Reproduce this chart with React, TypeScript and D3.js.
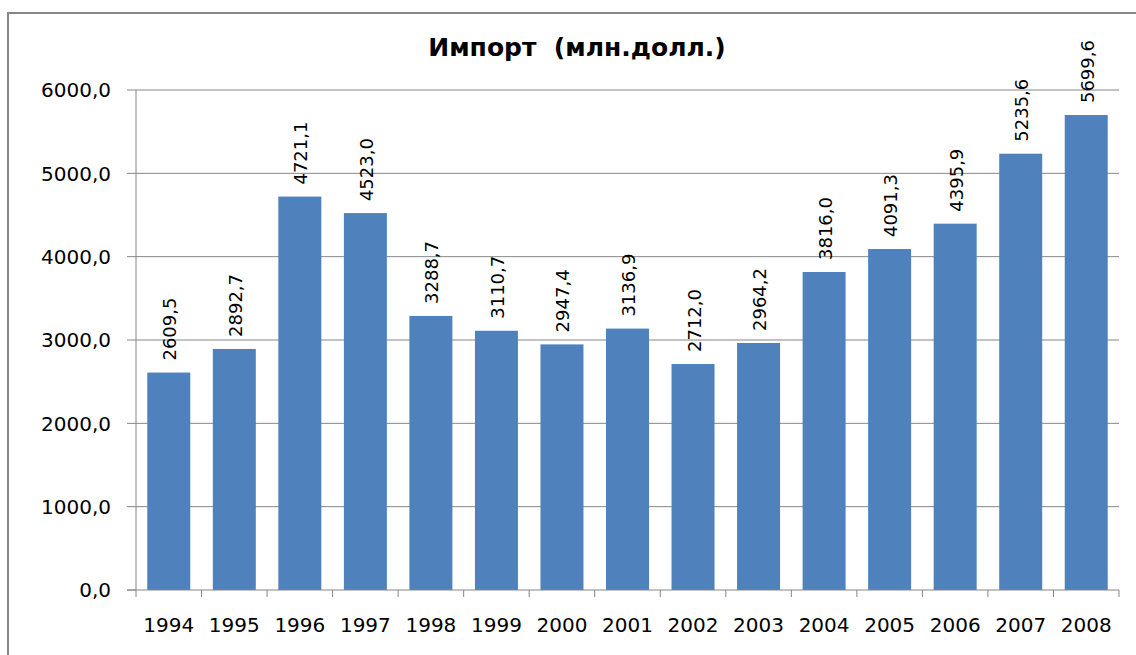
import React, { useEffect, useRef } from 'react'
import * as d3 from 'd3'

const years = ['1994', '1995', '1996', '1997', '1998', '1999', '2000', '2001', '2002', '2003', '2004', '2005', '2006', '2007', '2008']
const imports = [2609.5, 2892.7, 4721.1, 4523.0, 3288.7, 3110.7, 2947.4, 3136.9, 2712.0, 2964.2, 3816.0, 4091.3, 4395.9, 5235.6, 5699.6]
const yTicks = [0, 1000, 2000, 3000, 4000, 5000, 6000]
const title = 'Импорт  (млн.долл.)'

const W = 1136
const H = 655
const font = '"DejaVu Sans", Verdana, sans-serif'

const fmt = (v: number) => v.toFixed(1).replace('.', ',')

export default function App() {
  const ref = useRef<SVGSVGElement>(null)

  useEffect(() => {
    const svg = d3.select(ref.current)
    svg.selectAll('*').remove()

    const left = 136, right = 1119, top = 90, bottom = 590

    const x = d3.scaleBand<string>()
      .domain(years)
      .range([left, right])
      .paddingInner(0.344)
      .paddingOuter(0.172)

    const y = d3.scaleLinear().domain([0, 6000]).range([bottom, top])

    // chart frame
    svg.append('rect')
      .attr('x', 8).attr('y', 13)
      .attr('width', W).attr('height', H)
      .attr('fill', '#fff')
      .attr('stroke', '#868686')
      .attr('stroke-width', 2)

    svg.append('text')
      .attr('x', 577).attr('y', 56)
      .attr('text-anchor', 'middle')
      .attr('font-family', font)
      .attr('font-weight', 'bold')
      .attr('font-size', 25)
      .attr('fill', '#000')
      .style('white-space', 'pre')
      .text(title)

    // gridlines
    svg.append('g')
      .selectAll('line')
      .data(yTicks.filter(d => d > 0))
      .join('line')
      .attr('x1', left).attr('x2', right)
      .attr('y1', d => y(d)).attr('y2', d => y(d))
      .attr('stroke', '#868686')
      .attr('stroke-width', 1)

    // y axis
    const ya = svg.append('g')
    ya.append('line')
      .attr('x1', left).attr('x2', left)
      .attr('y1', top).attr('y2', bottom)
      .attr('stroke', '#868686')
    ya.selectAll('line.tick')
      .data(yTicks)
      .join('line')
      .attr('class', 'tick')
      .attr('x1', left - 9).attr('x2', left)
      .attr('y1', d => y(d)).attr('y2', d => y(d))
      .attr('stroke', '#868686')
    ya.selectAll('text')
      .data(yTicks)
      .join('text')
      .attr('x', 111)
      .attr('y', d => y(d))
      .attr('dy', '0.36em')
      .attr('text-anchor', 'end')
      .attr('font-family', font)
      .attr('font-size', 20)
      .attr('fill', '#000')
      .text(d => fmt(d))

    // bars
    svg.append('g')
      .selectAll('rect')
      .data(imports)
      .join('rect')
      .attr('x', (_, i) => x(years[i])!)
      .attr('width', x.bandwidth())
      .attr('y', d => y(d))
      .attr('height', d => bottom - y(d))
      .attr('fill', '#4F81BD')

    // value labels
    svg.append('g')
      .selectAll('text')
      .data(imports)
      .join('text')
      .attr('transform', (d, i) => `translate(${x(years[i])! + x.bandwidth() / 2 + 1},${y(d) - 12}) rotate(-90)`)
      .attr('dy', '0.36em')
      .attr('font-family', font)
      .attr('font-size', 18)
      .attr('fill', '#000')
      .text(d => fmt(d))

    // x axis
    const xa = svg.append('g')
    xa.append('line')
      .attr('x1', left - 9).attr('x2', right)
      .attr('y1', bottom).attr('y2', bottom)
      .attr('stroke', '#868686')
    xa.selectAll('line.tick')
      .data(d3.range(years.length + 1))
      .join('line')
      .attr('class', 'tick')
      .attr('x1', i => left + i * x.step()).attr('x2', i => left + i * x.step())
      .attr('y1', bottom).attr('y2', bottom + 7)
      .attr('stroke', '#868686')
    xa.selectAll('text')
      .data(years)
      .join('text')
      .attr('x', d => x(d)! + x.bandwidth() / 2)
      .attr('y', 632)
      .attr('text-anchor', 'middle')
      .attr('font-family', font)
      .attr('font-size', 20)
      .attr('fill', '#000')
      .text(d => d)
  }, [])

  return (
    <svg ref={ref} width={W} height={H} style={{ position: 'absolute', left: 0, top: 0 }} />
  )
}
